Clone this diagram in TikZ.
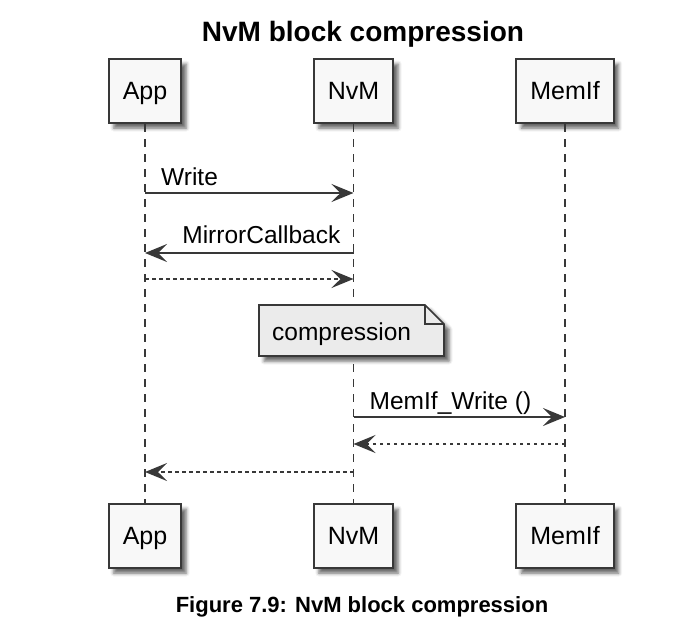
\documentclass[tikz,border=0pt]{standalone}
\usepackage{fontspec}
\setmainfont{Liberation Sans}
\usetikzlibrary{positioning, arrows.meta, shadows.blur}

\definecolor{lineclr}{HTML}{383838}
\definecolor{boxfill}{HTML}{F8F8F8}
\definecolor{notefill}{HTML}{EBEBEB}

\begin{document}
\begin{tikzpicture}[x=1pt, y=-1pt,
    shade/.style={blur shadow={shadow xshift=5pt, shadow yshift=-5pt, shadow blur radius=3.5pt, shadow opacity=60}},
    actor/.style={draw=lineclr, line width=2pt, fill=boxfill, minimum height=64pt,
        inner xsep=14pt, inner ysep=0pt, font=\fontsize{25}{30}\selectfont,
        text height=17.9pt, text depth=0pt, shade},
    life/.style={draw=lineclr, line width=1.5pt, dash pattern=on 8pt off 7pt},
    call/.style={draw=lineclr, line width=1.6pt, -{Stealth[length=22pt, width=18pt, inset=9pt]}},
    reply/.style={call, dash pattern=on 3.5pt off 3.5pt},
    lbl/.style={font=\fontsize{24.5}{29}\selectfont, anchor=base west, inner sep=0pt}
]
\useasboundingbox (0,0) rectangle (681,633);

\node[font=\bfseries\fontsize{28}{34}\selectfont, anchor=base] (title) at (363,41) {NvM block compression};

% participants
\node[actor] (appTop) at (145,91) {App};
\node[actor] (nvmTop) at (353.5,91) {NvM};
\node[actor] (memTop) at (565,91) {MemIf};
\node[actor] (appBot) at (145,536) {App};
\node[actor] (nvmBot) at (353.5,536) {NvM};
\node[actor] (memBot) at (565,536) {MemIf};

\draw[life] (appTop) -- (appBot);
\draw[life] (nvmTop) -- (nvmBot);
\draw[life] (memTop) -- (memBot);

% message rows
\coordinate (r1) at (0,193);
\coordinate (r2) at (0,253);
\coordinate (r3) at (0,279);
\coordinate (r4) at (0,417);
\coordinate (r5) at (0,444);
\coordinate (r6) at (0,472);

\draw[call] (appTop |- r1) -- (nvmTop |- r1);
\path (appTop |- r1) ++(16,-8) node[lbl] (lWrite) {Write};
\draw[call] (nvmTop |- r2) -- (appTop |- r2);
\path (nvmTop |- r2) ++(-13,-10) node[lbl, anchor=base east] (lMirror) {MirrorCallback};
\draw[reply] (appTop |- r3) -- (nvmTop |- r3);

% note
\draw[draw=lineclr, line width=1.6pt, fill=notefill, shade]
    (259,305) -- (425,305) -- (444,324) -- (444,356) -- (259,356) -- cycle;
\draw[draw=lineclr, line width=1.6pt] (425,305) -- (425,324) -- (444,324);
\node[lbl] (noteTxt) at (272,340) {compression};

\draw[call] (nvmTop |- r4) -- (memTop |- r4);
\path (nvmTop |- r4) ++(16,-8) node[lbl] (lMemWrite) {MemIf\_Write ()};
\draw[reply] (memTop |- r5) -- (nvmTop |- r5);
\draw[reply] (nvmTop |- r6) -- (appTop |- r6);

\node[font=\bfseries\fontsize{22}{26}\selectfont, anchor=base] (caption) at (362,612) {Figure 7.9: NvM block compression};
\end{tikzpicture}
\end{document}
